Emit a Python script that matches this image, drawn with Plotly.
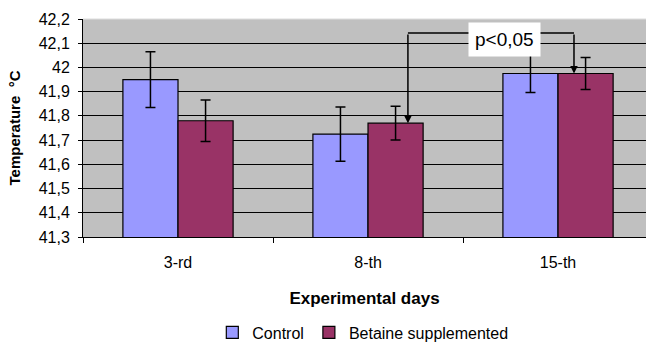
import plotly.graph_objects as go

categories = ["3-rd", "8-th", "15-th"]
control = [41.95, 41.725, 41.975]
control_err = [0.115, 0.112, 0.078]
betaine = [41.78, 41.77, 41.975]
betaine_err = [0.086, 0.07, 0.066]
y_ticks = [41.3, 41.4, 41.5, 41.6, 41.7, 41.8, 41.9, 42.0, 42.1, 42.2]
y_tick_text = ["41,3", "41,4", "41,5", "41,6", "41,7", "41,8", "41,9", "42", "42,1", "42,2"]
sig_label = "p<0,05"
sig_from = (1.21, 41.77)
sig_to = (2.084, 41.975)
sig_level = 42.142

FONT = "Liberation Sans, Arial, sans-serif"

fig = go.Figure()
fig.add_trace(go.Bar(
    x=categories, y=control, name="Control",
    marker=dict(color="#9999FF", line=dict(color="black", width=1.2)),
    error_y=dict(type="data", array=control_err, color="black", thickness=1.5, width=5),
))
fig.add_trace(go.Bar(
    x=categories, y=betaine, name="Betaine supplemented",
    marker=dict(color="#993366", line=dict(color="black", width=1.2)),
    error_y=dict(type="data", array=betaine_err, color="black", thickness=1.5, width=5),
))

# significance bracket
fig.add_shape(type="line", xref="x", yref="y",
              x0=sig_from[0], x1=sig_to[0], y0=sig_level, y1=sig_level,
              line=dict(color="black", width=1.5))
for (px, py) in (sig_from, sig_to):
    fig.add_annotation(x=px, y=py, ax=px, ay=sig_level, xref="x", yref="y",
                       axref="x", ayref="y", text="", showarrow=True,
                       arrowhead=2, arrowsize=1, arrowwidth=1.5, arrowcolor="black")
fig.add_annotation(x=1.718, y=42.116, xref="x", yref="y",
                   text=sig_label, showarrow=False, bgcolor="white",
                   font=dict(family=FONT, size=19, color="black"),
                   borderpad=6)

fig.update_layout(
    width=646, height=344,
    margin=dict(l=83, r=0, t=19, b=107, autoexpand=False),
    paper_bgcolor="white", plot_bgcolor="#C0C0C0",
    barmode="group", bargap=0.42, bargroupgap=0,
    font=dict(family=FONT, size=15, color="black"),
    showlegend=True,
    legend=dict(orientation="h", x=0.497, xanchor="center", y=-0.438, yanchor="middle",
                font=dict(family=FONT, size=16), itemwidth=30, tracegroupgap=0),
    xaxis=dict(
        range=[-0.5, 2.463], showline=True, linecolor="black", linewidth=1,
        ticks="outside", ticklen=5, tickcolor="black", tickson="boundaries",
        showgrid=False, tickfont=dict(size=16), ticklabelstandoff=11, automargin=False,
        title=dict(text="<b>Experimental days</b>", font=dict(size=17), standoff=21),
    ),
    yaxis=dict(
        range=[41.3, 42.2], tickvals=y_ticks, ticktext=y_tick_text,
        showline=True, linecolor="black", linewidth=1,
        ticks="outside", ticklen=4, tickcolor="black",
        showgrid=True, gridcolor="black", gridwidth=1, zeroline=False,
        tickfont=dict(size=16), ticklabelstandoff=5, automargin=False,
        title=dict(text="<b>Temperature  °C</b>", font=dict(size=15), standoff=14),
    ),
)
fig.add_shape(type="line", xref="paper", yref="paper", x0=0, x1=1, y0=1, y1=1,
              line=dict(color="#DDDDDD", width=1))

fig.write_html("out.html")
